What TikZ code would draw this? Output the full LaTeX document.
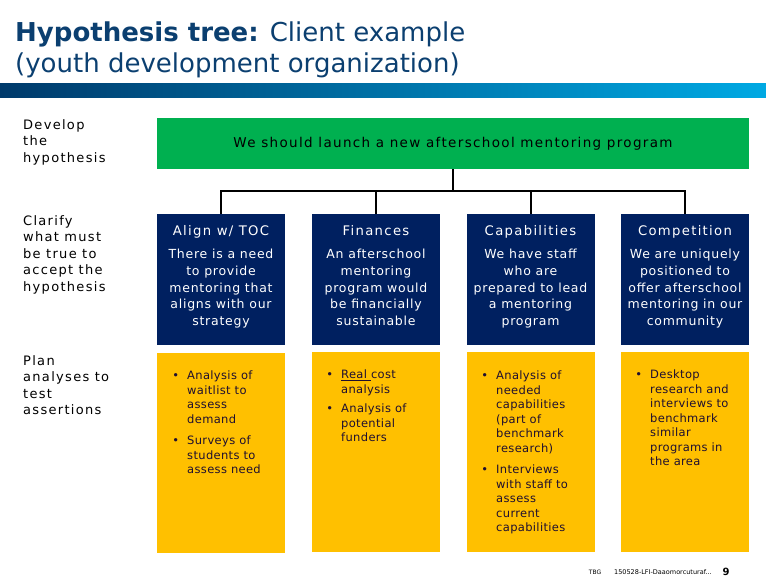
\documentclass[tikz,border=0pt]{standalone}
\usepackage{fontspec}
\setmainfont{DejaVu Sans}
\newfontfamily\wideA[LetterSpace=10]{DejaVu Sans}
\newfontfamily\wideB[LetterSpace=6]{DejaVu Sans}
\newfontfamily\wideC[LetterSpace=3]{DejaVu Sans}
\definecolor{titleblue}{HTML}{0B3F70}
\definecolor{bardark}{HTML}{003A6B}
\definecolor{barlight}{HTML}{00A9E3}
\definecolor{hypgreen}{HTML}{00B050}
\definecolor{tocnavy}{HTML}{002060}
\definecolor{testgold}{HTML}{FFC000}
\definecolor{testink}{HTML}{1F0F30}
\newcommand{\bul}{\llap{\textbullet\hspace{8pt}}}
\tikzset{
  steplabel/.style={anchor=north west,inner sep=0,align=left,font=\wideA\fontsize{13}{16.5}\selectfont},
  navyhead/.style={fill=tocnavy,text=white,minimum width=128,minimum height=131,inner sep=0},
  headtext/.style={text=white,anchor=base,inner sep=0,font=\wideA\fontsize{13.2}{15}\selectfont},
  bodytext/.style={text=white,anchor=north,inner sep=0,align=center,font=\wideB\fontsize{12.5}{16.75}\selectfont},
  goldbox/.style={fill=testgold,minimum width=128,inner sep=0,anchor=north},
  testlist/.style={text=testink,anchor=north west,inner sep=0,align=left,font=\wideC\fontsize{11.5}{14.5}\selectfont},
  treeline/.style={black,line width=2pt}
}
\begin{document}
\begin{tikzpicture}[x=1pt,y=-1pt]
  \useasboundingbox (0,0) rectangle (766,586);
  \fill[left color=bardark,right color=barlight] (0,84) rectangle (766,97);
  \node[anchor=north west,inner sep=0,align=left,text=titleblue,font=\fontsize{26}{31}\selectfont]
    (title) at (15,22) {\textbf{Hypothesis tree:} Client example\\(youth development organization)};

  \node[steplabel] (develop) at (23,119) {Develop\\the\\hypothesis};
  \node[steplabel] (clarify) at (23,215) {Clarify\\what must\\be true to\\accept the\\hypothesis};
  \node[steplabel] (plan) at (23,355) {Plan\\analyses to\\test\\assertions};

  \node[fill=hypgreen,minimum width=592,minimum height=51,inner sep=0,font=\wideA\fontsize{13.5}{15}\selectfont]
    (root) at (453,143.5) {We should launch a new afterschool mentoring program};

  % assertions
  \node[navyhead] (toc) at (221,279.5) {};
  \node[navyhead] (fin) at (376,279.5) {};
  \node[navyhead] (cap) at (530.5,279.5) {};
  \node[navyhead] (comp) at (685,279.5) {};

  \node[headtext] at (221,235.5) {Align w/ TOC};
  \node[headtext] at (376,235.5) {Finances};
  \node[headtext] at (530.5,235.5) {Capabilities};
  \node[headtext] at (685,235.5) {Competition};

  \node[bodytext] at (221,249) {There is a need\\to provide\\mentoring that\\aligns with our\\strategy};
  \node[bodytext] at (376,249) {An afterschool\\mentoring\\program would\\be financially\\sustainable};
  \node[bodytext] at (530.5,249) {We have staff\\who are\\prepared to lead\\a mentoring\\program};
  \node[bodytext] at (685,249) {We are uniquely\\positioned to\\offer afterschool\\mentoring in our\\community};

  % tests
  \node[goldbox,minimum height=200] (tocgold) at (221,353) {};
  \node[goldbox,minimum height=200] (fingold) at (376,352) {};
  \node[goldbox,minimum height=200] (capgold) at (530.5,352) {};
  \node[goldbox,minimum height=200] (compgold) at (685,352) {};

  \node[testlist] at (187,371) {\bul Analysis of\\waitlist to\\assess\\demand\\[7pt]\bul Surveys of\\students to\\assess need};
  \node[testlist] at (341,370) {\bul\underline{Real }cost\\analysis\\[5pt]\bul Analysis of\\potential\\funders};
  \node[testlist] at (496,371) {\bul Analysis of\\needed\\capabilities\\(part of\\benchmark\\research)\\[7pt]\bul Interviews\\with staff to\\assess\\current\\capabilities};
  \node[testlist] at (650,370) {\bul Desktop\\research and\\interviews to\\benchmark\\similar\\programs in\\the area};

  % tree
  \draw[black,line width=1.5pt] (root.south) -- (453,191);
  \draw[treeline] (toc.north) -- (221,191) -- (685,191) -- (comp.north);
  \draw[treeline] (fin.north) -- (376,191);
  \draw[treeline] (cap.north) -- (530.5,191);

  % footer
  \node[inner sep=0,font=\fontsize{6}{7}\selectfont] (tbg) at (595,572) {TBG};
  \node[inner sep=0,font=\fontsize{6.5}{7}\selectfont] (ref) at (663,572) {150528-LFI-Daaomorcuturaf...};
  \node[inner sep=0,font=\bfseries\fontsize{10}{11}\selectfont] (page) at (726,572) {9};
\end{tikzpicture}
\end{document}
